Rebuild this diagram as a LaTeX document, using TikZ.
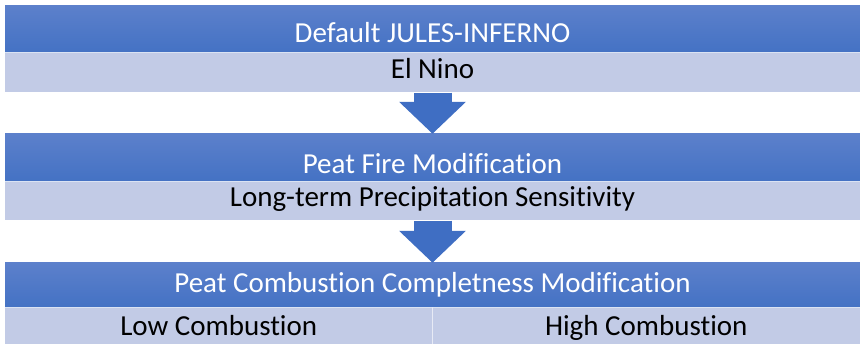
\documentclass[tikz,border=0pt]{standalone}
\usepackage{fontspec}
\setmainfont{Carlito}[Ligatures=NoCommon]
\usepackage{tikz}
\usetikzlibrary{positioning, arrows.meta}

\definecolor{hdtop}{HTML}{5C80CB}
\definecolor{hdbot}{HTML}{4472C4}
\definecolor{rowblue}{HTML}{C2CBE6}
\definecolor{arrblue}{HTML}{3F6EC3}

\tikzset{
    header/.style={minimum width=855pt, minimum height=46pt, inner sep=0pt,
        top color=hdtop, bottom color=hdbot, text=white, font=\fontsize{29}{33}\selectfont,
        text height=20pt, text depth=4pt},
    rowbox/.style={minimum width=855pt, minimum height=40pt, inner sep=0pt,
        fill=rowblue, text=black, font=\fontsize{29}{33}\selectfont,
        text height=18pt, text depth=6pt},
    halfbox/.style={rowbox, minimum width=427.5pt, minimum height=38pt},
    blockarrow/.style={arrblue, line width=38pt,
        -{Triangle[width=65pt, length=32pt]}}
}

\begin{document}
\begin{tikzpicture}[x=1pt, y=-1pt]
    \useasboundingbox (0,0) rectangle (860,344);

    % Stufe 1
    \node[header, text height=28pt, text depth=0pt] (head1) at (432.5, 29) {Default JULES-INFERNO};
    \node[rowbox, below=0pt of head1] (row1) {El Nino};
    \draw[white!80!hdbot, line width=1pt] (head1.south west) -- (head1.south east);

    % Stufe 2
    \node[header, minimum height=47pt, text height=33pt, text depth=0pt] (head2) at (432.5, 157.5) {Peat Fire Modification};
    \node[rowbox, minimum height=39pt, text height=17pt, below=0pt of head2] (row2) {Long-term Precipitation Sensitivity};
    \draw[white!80!hdbot, line width=1pt] (head2.south west) -- (head2.south east);

    % Stufe 3
    \node[header, minimum height=44pt] (head3) at (432.5, 285) {Peat Combustion Completness Modification};
    \node[halfbox, text height=21pt, text depth=2pt, anchor=north west] (low) at (head3.south west) {Low Combustion};
    \node[halfbox, text height=21pt, text depth=2pt, anchor=north east] (high) at (head3.south east) {High Combustion};
    \draw[white!80!hdbot, line width=1pt] (head3.south west) -- (head3.south east);
    \draw[white!60!rowblue, line width=1pt] (low.north east) -- (low.south east);

    % Pfeile
    \draw[blockarrow] (row1.south) -- (head2.north);
    \draw[blockarrow] (row2.south) -- (head3.north);
\end{tikzpicture}
\end{document}
